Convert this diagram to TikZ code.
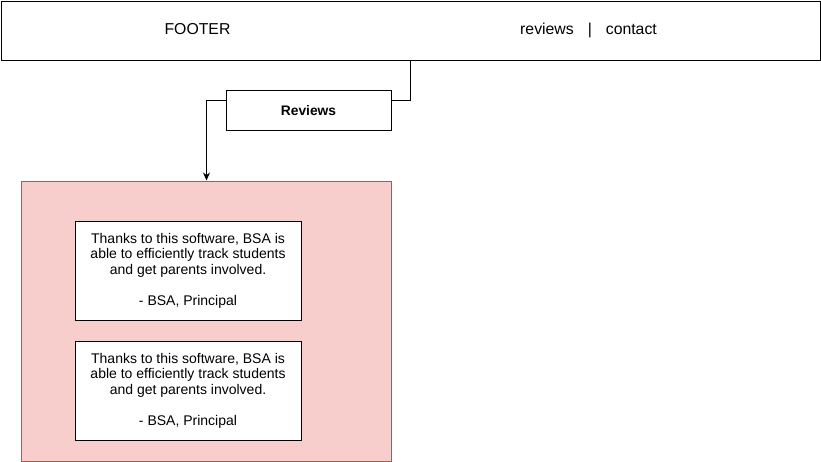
\documentclass[tikz,border=0pt]{standalone}
\usepackage{fontspec}
\setmainfont{Liberation Sans}
\usetikzlibrary{arrows.meta}
\definecolor{pinkfill}{HTML}{F8CECC}
\definecolor{pinkline}{HTML}{B85450}
\begin{document}
\begin{tikzpicture}[x=1pt,y=-1pt,
  box/.style={draw=black,line width=1pt,fill=white,inner sep=0pt,anchor=north west},
  quote/.style={box,align=center,font=\fontsize{14}{15.6}\selectfont},
  conn/.style={draw=black,line width=1pt},
]
\useasboundingbox (0,0) rectangle (821,461);
\node[box,minimum width=819pt,minimum height=59.5pt] (footer) at (0.5,0.5) {};
\node[font=\fontsize{15.8}{18}\selectfont] (ftitle) at (197.5,29.5) {FOOTER};
\node[font=\fontsize{15.8}{18}\selectfont,anchor=west,inner sep=0pt] (links) at (520,30) {reviews\hspace{14pt}|\hspace{14pt}contact};
\node[box,minimum width=165pt,minimum height=40pt,font=\bfseries\fontsize{13.8}{16}\selectfont] (reviews) at (225.5,90) {Reviews};
\node[draw=pinkline,fill=pinkfill,line width=1pt,inner sep=0pt,anchor=north west,minimum width=370pt,minimum height=280pt] (panel) at (20.5,180.5) {};
\node[quote,minimum width=226pt,minimum height=99.5pt] (q1) at (74.5,220.5) {Thanks to this software, BSA is\\able to efficiently track students\\and get parents involved.\\[15.6pt]- BSA, Principal};
\node[quote,minimum width=226pt,minimum height=99.5pt] (q2) at (74.5,340.5) {Thanks to this software, BSA is\\able to efficiently track students\\and get parents involved.\\[15.6pt]- BSA, Principal};
\coordinate (fbot) at (410.5,60);
\draw[conn] (fbot) |- ([yshift=10pt]reviews.east);
\draw[conn,-{Stealth[length=8pt,width=7pt]}] ([yshift=10pt]reviews.west) -| ([xshift=-19pt]panel.north -| reviews.west);
\end{tikzpicture}
\end{document}
